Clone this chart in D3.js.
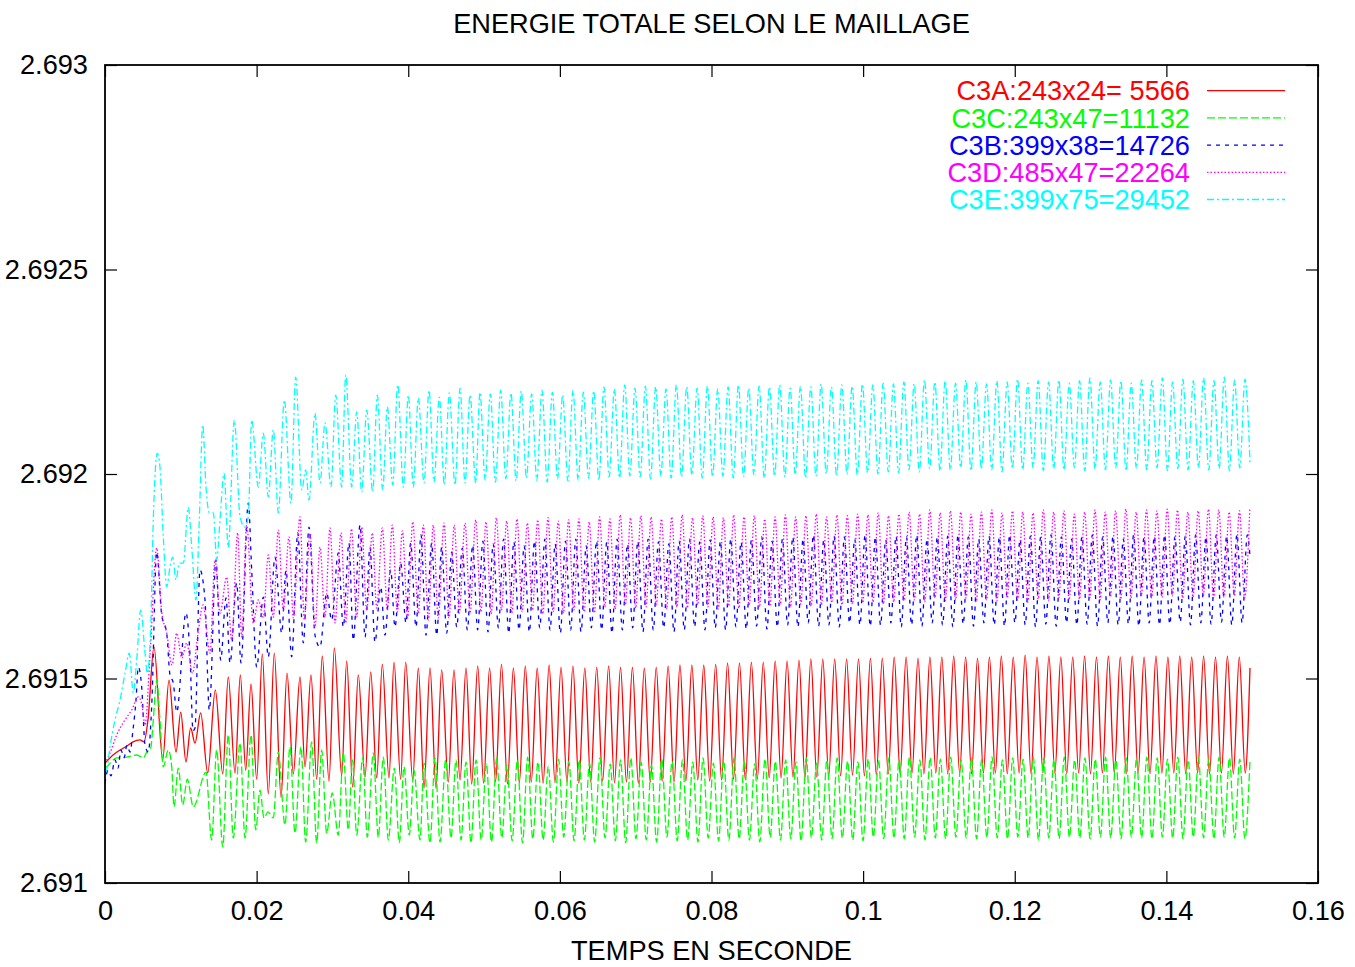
<!DOCTYPE html>
<html><head><meta charset="utf-8">
<script src="https://cdn.jsdelivr.net/npm/d3@7"></script>
<style>
html,body{margin:0;padding:0;background:#fff;}
svg{display:block;}
text{font-family:"Liberation Sans",Arial,Helvetica,sans-serif;}
</style></head><body>
<svg id="chart" width="1355" height="967"></svg>
<script>
// ---------------- DATA (time in ms, total energy) ----------------
const chartTitle = "ENERGIE TOTALE SELON LE MAILLAGE";
const xAxisTitle = "TEMPS EN SECONDE";
const xTickValues = [0, 0.02, 0.04, 0.06, 0.08, 0.1, 0.12, 0.14, 0.16];
const xTickLabels = ["0", "0.02", "0.04", "0.06", "0.08", "0.1", "0.12", "0.14", "0.16"];
const yTickValues = [2.691, 2.6915, 2.692, 2.6925, 2.693];
const yTickLabels = ["2.691", "2.6915", "2.692", "2.6925", "2.693"];
const seriesLabels = ["C3A:243x24= 5566", "C3C:243x47=11132", "C3B:399x38=14726", "C3D:485x47=22264", "C3E:399x75=29452"];

const c3aTime = [
0,1.06,1.98,2.90,3.69,4.62,5.14,5.67,6.46,7.61,
8.44,9.37,9.99,10.68,11.30,11.87,12.62,13.55,14.55,15.53,
16.26,17.15,17.85,18.56,19.26,20.01,20.75,21.54,22.33,23.22,
24.01,24.84,25.72,26.38,27.17,27.92,28.66,29.55,30.25,31.22,
31.88,32.67,33.41,34.30,35.05,35.84,36.58,37.46,38.12,39.00,
39.66,40.59,41.33,42.08,42.87,43.66,44.41,45.28,46.03,46.83,
47.62,48.37,
49.16,49.94,50.73,51.51,52.30,53.08,53.87,54.65,55.44,56.22,
57.01,57.79,58.58,59.36,60.15,60.93,61.72,62.50,63.29,64.07,
64.86,65.64,66.43,67.21,68.00,68.78,69.57,70.35,71.14,71.92,
72.71,73.49,74.28,75.06,75.84,76.62,77.41,78.19,78.98,79.76,
80.55,81.33,82.12,82.90,83.69,84.47,85.26,86.04,86.83,87.61,
88.40,89.18,89.97,90.75,91.54,92.32,93.11,93.89,94.68,95.46,
96.25,97.03,97.82,98.60,99.39,100.17,100.96,101.74,102.53,103.31,
104.10,104.88,105.67,106.45,107.24,108.02,108.81,109.59,110.38,111.16,
111.95,112.73,113.52,114.30,115.09,115.87,116.66,117.44,118.23,119.01,
119.80,120.58,121.37,122.15,122.94,123.72,124.51,125.29,126.08,126.86,
127.65,128.43,129.21,129.99,130.78,131.56,132.35,133.13,133.92,134.70,
135.49,136.27,137.06,137.84,138.63,139.41,140.20,140.98,141.77,142.55,
143.34,144.12,144.91,145.69,146.48,147.26,148.05,148.83,149.62,150.40,
151.03];
const c3aEnergy = [
2.691293,2.691313,2.691325,2.691335,2.691345,2.69135,2.691345,2.691399,2.691577,2.691301,
2.691496,2.69132,2.691418,2.691296,2.691379,2.691342,2.691416,2.691269,2.691472,2.691267,
2.691504,2.691269,2.691509,2.691276,2.691487,2.691254,2.69156,2.691218,2.691562,2.69121,
2.691513,2.691267,2.691504,2.691284,2.691509,2.691254,2.691555,2.691249,2.691575,2.691262,
2.691543,2.691235,2.691509,2.691259,2.691516,2.691257,2.691535,2.691257,2.69154,2.691254,
2.69154,2.691252,2.691526,2.691232,2.691526,2.691232,2.691521,2.691247,2.691521,2.691252,
2.691526,2.691242,
2.691531,2.691244,2.691526,2.691247,2.691535,2.691242,2.691526,2.691245,2.691531,2.691247,
2.691526,2.691244,2.691533,2.691245,2.691528,2.691247,2.691531,2.691244,2.691526,2.691247,
2.691528,2.691249,2.691531,2.691245,2.691528,2.691247,2.691528,2.691244,2.691526,2.691247,
2.691528,2.691249,2.691531,2.691247,2.691533,2.691249,2.691533,2.691252,2.691533,2.691249,
2.691535,2.691252,2.691538,2.691254,2.691538,2.691252,2.69154,2.691254,2.69154,2.691257,
2.691543,2.691257,2.691543,2.691259,2.691545,2.691257,2.691548,2.691259,2.691548,2.691262,
2.691548,2.691262,2.691548,2.691264,2.691548,2.691262,2.69155,2.691264,2.69155,2.691267,
2.691553,2.691267,2.691553,2.691269,2.69155,2.691267,2.691553,2.691269,2.691553,2.691267,
2.691555,2.691269,2.691553,2.691267,2.69155,2.691269,2.691553,2.691269,2.691555,2.691267,
2.691553,2.691269,2.691558,2.691267,2.691553,2.691269,2.691555,2.691269,2.691553,2.691267,
2.691553,2.691269,2.691555,2.691267,2.691553,2.691269,2.691555,2.691269,2.691553,2.691267,
2.691555,2.691269,2.691553,2.691267,2.691555,2.691269,2.691553,2.691269,2.691555,2.691267,
2.691553,2.691269,2.691555,2.691267,2.691553,2.691269,2.691555,2.691267,2.691553,2.691269,
2.691526];

const c3cTime = [
0,0.22,1.54,2.86,4.18,5.05,5.50,6.03,6.37,6.82,
7.25,7.69,8.35,8.80,9.10,9.67,10.25,10.86,11.65,13.32,
14.07,14.73,15.53,16.26,16.92,17.81,18.47,19.26,19.88,20.45,
20.97,21.50,22.20,22.86,23.74,24.40,25.06,25.85,26.47,27.26,
27.92,28.58,29.24,29.98,30.77,31.43,32.09,32.65,33.20,33.99,
34.60,35.39,36.05,36.71,37.37,38.16,38.82,39.44,40.14,40.76,
41.55,42.08,42.87,43.53,44.19,44.94,45.64,46.30,46.96,47.62,
48.28,
48.94,49.62,50.30,50.98,51.66,52.34,53.02,53.70,54.39,55.07,
55.75,56.43,57.11,57.79,58.47,59.15,59.83,60.51,61.19,61.87,
62.55,63.23,63.91,64.59,65.28,65.96,66.64,67.32,68.00,68.68,
69.36,70.04,70.72,71.40,72.08,72.76,73.44,74.12,74.80,75.48,
76.17,76.85,77.53,78.21,78.89,79.57,80.25,80.93,81.61,82.29,
82.97,83.65,84.33,85.01,85.69,86.37,87.06,87.74,88.42,89.10,
89.78,90.46,91.14,91.82,92.50,93.18,93.86,94.54,95.22,95.90,
96.58,97.26,97.95,98.63,99.31,99.99,100.67,101.35,102.03,102.71,
103.39,104.07,104.75,105.43,106.11,106.79,107.48,108.16,108.84,109.52,
110.20,110.88,111.56,112.24,112.92,113.60,114.28,114.96,115.64,116.32,
117.01,117.69,118.37,119.05,119.73,120.41,121.09,121.77,122.45,123.13,
123.81,124.49,125.17,125.85,126.53,127.21,127.90,128.58,129.26,129.94,
130.62,131.30,131.98,132.66,133.34,134.02,134.70,135.38,136.06,136.74,
137.42,138.10,138.79,139.47,140.15,140.83,141.51,142.19,142.87,143.55,
144.23,144.91,145.59,146.27,146.95,147.63,148.32,149.00,149.68,150.36,
151.03];
const c3cEnergy = [
2.691281,2.691284,2.691306,2.691308,2.691313,2.691306,2.69132,2.69133,2.691399,2.691496,
2.691399,2.691284,2.691325,2.691284,2.691186,2.691281,2.691191,2.691254,2.691186,2.691271,
2.691105,2.691325,2.691088,2.691362,2.69111,2.691342,2.69111,2.691362,2.69113,2.691227,
2.691159,2.691174,2.691159,2.69132,2.691142,2.691333,2.691122,2.691333,2.6911,2.691345,
2.691098,2.691325,2.691122,2.69122,2.691117,2.691318,2.69113,2.691301,2.691117,2.691306,
2.691112,2.691318,2.691112,2.691308,2.691105,2.691281,2.691098,2.691284,2.691117,2.691276,
2.691105,2.691293,2.691098,2.691306,2.6911,2.691301,2.69111,2.691301,2.691105,2.691296,
2.691098,
2.691301,2.691105,2.691293,2.6911,2.691306,2.69111,2.691289,2.691103,2.691301,2.691098,
2.691308,2.691108,2.691296,2.691105,2.691286,2.6911,2.691303,2.691112,2.691298,2.691103,
2.691301,2.691105,2.691293,2.6911,2.691306,2.69111,2.691291,2.691103,2.691301,2.691098,
2.691306,2.691108,2.691296,2.691105,2.691289,2.6911,2.691303,2.691112,2.691298,2.691103,
2.691301,2.691105,2.691296,2.6911,2.691306,2.69111,2.691293,2.691103,2.691301,2.691105,
2.691306,2.691108,2.691298,2.691105,2.691291,2.6911,2.691303,2.691112,2.691298,2.691105,
2.691301,2.691108,2.691296,2.691103,2.691306,2.69111,2.691293,2.691105,2.691301,2.691108,
2.691306,2.69111,2.691298,2.691105,2.691296,2.691103,2.691303,2.691112,2.691301,2.691108,
2.691306,2.69111,2.691303,2.691108,2.691308,2.691112,2.691301,2.691105,2.691306,2.69111,
2.691303,2.691108,2.691308,2.691112,2.691301,2.69111,2.691306,2.691108,2.691303,2.691112,
2.691308,2.69111,2.691301,2.691108,2.691306,2.691112,2.691303,2.69111,2.691308,2.691105,
2.691306,2.69111,2.691303,2.691108,2.691308,2.691112,2.691301,2.69111,2.691306,2.691108,
2.691303,2.691112,2.691308,2.69111,2.691301,2.691108,2.691306,2.691112,2.691303,2.69111,
2.691308,2.691108,2.691306,2.691112,2.691303,2.69111,2.691308,2.691108,2.691301,2.691112,
2.691306,2.69111,2.691303,2.691108,2.691308,2.691112,2.691306,2.69111,2.691303,2.691108,
2.691301];

const c3bTime = [
0,0.40,0.79,1.32,1.71,2.11,2.51,2.90,3.30,3.69,
4.09,4.39,4.84,5.28,5.71,6.16,6.82,7.48,8.14,8.57,
9.01,9.46,10.68,11.21,11.61,11.87,12.53,13.19,13.76,14.64,
15.26,15.96,16.49,17.37,17.94,18.90,19.35,20.01,20.88,21.54,
22.42,23.31,23.87,24.63,25.42,26.16,26.91,27.70,28.36,29.24,
29.90,30.77,31.43,32.18,32.75,33.64,34.30,34.95,35.61,36.37,
36.93,37.68,38.25,39.00,39.70,40.32,41.02,41.68,42.34,43.09,
43.75,44.41,45.07,45.73,46.39,47.13,47.79,48.50,
49.16,49.84,50.52,51.20,51.89,52.57,53.25,53.93,54.61,55.29,
55.97,56.65,57.34,58.02,58.70,59.38,60.06,60.74,61.42,62.10,
62.79,63.47,64.15,64.83,65.51,66.19,66.87,67.55,68.24,68.92,
69.60,70.28,70.96,71.64,72.32,73.00,73.69,74.37,75.05,75.73,
76.41,77.09,77.77,78.45,79.14,79.82,80.50,81.18,81.86,82.54,
83.22,83.90,84.59,85.27,85.95,86.63,87.31,87.99,88.68,89.36,
90.04,90.72,91.40,92.08,92.76,93.44,94.13,94.81,95.49,96.17,
96.85,97.53,98.21,98.89,99.58,100.26,100.94,101.62,102.30,102.98,
103.66,104.34,105.03,105.71,106.39,107.07,107.75,108.43,109.11,109.79,
110.48,111.16,111.84,112.52,113.20,113.88,114.56,115.24,115.93,116.61,
117.29,117.97,118.65,119.33,120.02,120.70,121.38,122.06,122.74,123.42,
124.10,124.78,125.47,126.15,126.83,127.51,128.19,128.87,129.55,130.23,
130.92,131.60,132.28,132.96,133.64,134.32,135.00,135.68,136.37,137.05,
137.73,138.41,139.09,139.77,140.45,141.13,141.82,142.50,143.18,143.86,
144.54,145.22,145.90,146.58,147.27,147.95,148.63,149.31,149.99,150.67,
151.03];
const c3bEnergy = [
2.691244,2.691276,2.691262,2.691301,2.691281,2.691325,2.691306,2.691337,2.69132,2.691374,
2.691447,2.691528,2.691479,2.691337,2.69132,2.691433,2.691809,2.691655,2.691611,2.691509,
2.691489,2.691418,2.69166,2.691557,2.691372,2.691379,2.691765,2.691692,2.691423,2.69179,
2.691545,2.691697,2.691538,2.691733,2.691538,2.691929,2.691765,2.691528,2.691699,2.691553,
2.691797,2.691611,2.691765,2.691553,2.691856,2.691587,2.69187,2.691606,2.691577,2.691709,
2.691643,2.691807,2.691626,2.691831,2.691594,2.691875,2.691601,2.691821,2.691589,2.691724,
2.691606,2.691765,2.691626,2.691782,2.691636,2.691831,2.691626,2.691851,2.691606,2.691831,
2.691606,2.691821,2.691611,2.691809,2.691626,2.691819,2.691619,2.691826,
2.691619,2.691836,2.691614,2.691829,2.691624,2.691841,2.691611,2.691834,2.691619,2.691824,
2.691614,2.691836,2.691624,2.691841,2.691619,2.691829,2.691611,2.691836,2.691619,2.691841,
2.691614,2.691824,2.691624,2.691836,2.691619,2.691834,2.691611,2.691841,2.691619,2.691829,
2.691624,2.691836,2.691614,2.691841,2.691619,2.691834,2.691624,2.691829,2.691614,2.691836,
2.691619,2.691841,2.691626,2.691834,2.691619,2.691839,2.691624,2.691836,2.691619,2.691841,
2.691626,2.691834,2.691621,2.691839,2.691628,2.691846,2.691621,2.691836,2.691626,2.691841,
2.691631,2.691846,2.691626,2.691841,2.691636,2.691851,2.691628,2.691839,2.691631,2.691848,
2.691626,2.691846,2.691636,2.691841,2.691631,2.691851,2.691628,2.691846,2.691631,2.691839,
2.691636,2.691848,2.691626,2.691846,2.691631,2.691851,2.691628,2.691841,2.691636,2.691846,
2.691631,2.691848,2.691626,2.691851,2.691633,2.691846,2.691628,2.691841,2.691636,2.691848,
2.691631,2.691846,2.691628,2.691851,2.691636,2.691841,2.691631,2.691848,2.691626,2.691846,
2.691633,2.691851,2.691628,2.691846,2.691636,2.691841,2.691631,2.691848,2.691633,2.691851,
2.691628,2.691846,2.691636,2.691848,2.691631,2.691841,2.691633,2.691851,2.691628,2.691846,
2.691636,2.691848,2.691631,2.691851,2.691633,2.691846,2.691638,2.691848,2.691631,2.691851,
2.691636,2.691846,2.691633,2.691851,2.691638,2.691848,2.691631,2.691853,2.691636,2.691851,
2.6918];

const c3dTime = [
0,0.66,1.54,2.64,3.52,4.39,4.88,5.28,5.94,6.82,
7.48,8.14,8.84,9.46,10.12,10.78,11.54,12.27,12.93,13.85,
14.51,15.17,16.05,16.71,17.50,18.03,18.69,19.56,20.22,20.88,
21.54,22.20,22.86,23.52,24.27,24.84,25.72,26.29,27.04,27.70,
28.36,29.02,29.68,30.34,31.13,31.75,32.51,33.20,33.86,34.52,
35.26,35.84,36.58,37.24,37.90,38.56,39.22,39.93,40.59,41.33,
41.99,42.65,43.30,43.96,44.72,45.37,46.07,46.73,47.49,48.15,
48.90,49.58,50.26,50.94,51.62,52.30,52.98,53.66,54.35,55.03,
55.71,56.39,57.07,57.75,58.43,59.11,59.79,60.47,61.15,61.83,
62.51,63.19,63.87,64.55,65.24,65.92,66.60,67.28,67.96,68.64,
69.32,70.00,70.68,71.36,72.04,72.72,73.40,74.08,74.76,75.44,
76.13,76.81,77.49,78.17,78.85,79.53,80.21,80.89,81.57,82.25,
82.93,83.61,84.29,84.97,85.65,86.33,87.02,87.70,88.38,89.06,
89.74,90.42,91.10,91.78,92.46,93.14,93.82,94.50,95.18,95.86,
96.54,97.22,97.91,98.59,99.27,99.95,100.63,101.31,101.99,102.67,
103.35,104.03,104.71,105.39,106.07,106.75,107.44,108.12,108.80,109.48,
110.16,110.84,111.52,112.20,112.88,113.56,114.24,114.92,115.60,116.28,
116.97,117.65,118.33,119.01,119.69,120.37,121.05,121.73,122.41,123.09,
123.77,124.45,125.13,125.81,126.49,127.17,127.86,128.54,129.22,129.90,
130.58,131.26,131.94,132.62,133.30,133.98,134.66,135.34,136.02,136.70,
137.38,138.06,138.75,139.43,140.11,140.79,141.47,142.15,142.83,143.51,
144.19,144.87,145.55,146.23,146.91,147.59,148.28,148.96,149.64,150.32,
151.00];
const c3dEnergy = [
2.691293,2.691318,2.691362,2.691399,2.691423,2.691455,2.691435,2.691386,2.691557,2.691819,
2.691663,2.691611,2.691533,2.691611,2.69155,2.691587,2.691513,2.691611,2.69168,2.691562,
2.69179,2.69166,2.691748,2.691594,2.691856,2.691601,2.691875,2.691636,2.691692,2.69165,
2.691802,2.69165,2.691863,2.691667,2.691846,2.691648,2.691895,2.691643,2.691856,2.691626,
2.691821,2.69165,2.691868,2.691636,2.691856,2.691636,2.691866,2.69165,2.69187,2.691667,
2.691856,2.691672,2.691868,2.691667,2.691875,2.691663,2.691861,2.691648,2.691883,2.69166,
2.691875,2.691643,2.691875,2.691648,2.69188,2.691648,2.691875,2.69166,2.69188,2.69166,
2.691888,2.691663,2.691883,2.691658,2.691893,2.691667,2.691885,2.69166,2.69189,2.691663,
2.69188,2.691667,2.691888,2.691658,2.691893,2.691663,2.691885,2.69166,2.691888,2.691667,
2.69189,2.691663,2.691883,2.69166,2.691895,2.691675,2.69189,2.69167,2.6919,2.69168,
2.691893,2.691672,2.691898,2.691675,2.691895,2.69168,2.69189,2.69167,2.691895,2.691675,
2.6919,2.691672,2.691893,2.69168,2.691898,2.691675,2.691895,2.69167,2.691893,2.691677,
2.6919,2.691672,2.691895,2.69168,2.691898,2.691675,2.69189,2.691677,2.691895,2.69168,
2.6919,2.691675,2.691895,2.691682,2.691898,2.691677,2.691902,2.69168,2.691895,2.691685,
2.6919,2.69168,2.691898,2.691682,2.691902,2.691685,2.6919,2.691687,2.691905,2.691682,
2.691898,2.691687,2.691902,2.69169,2.691907,2.691692,2.691902,2.691687,2.691912,2.691697,
2.691905,2.69169,2.69191,2.691692,2.691907,2.691697,2.691902,2.691687,2.691907,2.691692,
2.691912,2.69169,2.691905,2.691697,2.69191,2.691692,2.691907,2.691687,2.691905,2.691694,
2.691912,2.69169,2.691907,2.691697,2.69191,2.691692,2.691902,2.691694,2.691907,2.691697,
2.691912,2.691692,2.691907,2.691699,2.69191,2.691694,2.691914,2.691697,2.691907,2.691702,
2.691912,2.691697,2.69191,2.691699,2.691914,2.691702,2.691912,2.691697,2.691907,2.691699,
2.69191,2.691702,2.691914,2.691697,2.691912,2.691699,2.691907,2.691702,2.69191,2.691697,
2.691914];

const c3eTime = [
0,0.22,0.66,1.32,1.98,2.64,3.21,3.73,4.18,4.71,
5.28,5.58,6.03,6.37,6.90,7.25,7.69,8.14,8.57,8.93,
9.37,9.80,10.33,10.99,11.44,12.00,12.44,12.89,13.32,13.76,
14.29,14.73,15.17,15.70,16.26,17.06,17.81,18.47,18.90,19.35,
20.22,20.88,21.54,22.20,22.86,23.65,24.53,25.15,25.95,26.47,
26.91,27.70,28.36,29.02,29.81,30.43,31.22,31.75,32.54,33.20,
33.86,34.52,35.31,35.92,36.63,37.24,37.95,38.61,39.35,40.01,
40.67,41.33,42.08,42.74,43.40,44.10,44.76,45.41,46.17,46.83,
47.49,48.15,48.90,
49.46,50.14,50.82,51.50,52.19,52.87,53.55,54.23,54.91,55.59,
56.28,56.96,57.64,58.32,59.01,59.69,60.37,61.05,61.73,62.41,
63.10,63.78,64.46,65.14,65.82,66.50,67.19,67.87,68.55,69.23,
69.91,70.59,71.28,71.96,72.64,73.32,74.00,74.68,75.37,76.05,
76.73,77.41,78.10,78.78,79.46,80.14,80.82,81.50,82.19,82.87,
83.55,84.23,84.91,85.59,86.28,86.96,87.64,88.32,89.00,89.68,
90.37,91.05,91.73,92.41,93.10,93.78,94.46,95.14,95.82,96.50,
97.19,97.87,98.55,99.23,99.91,100.59,101.28,101.96,102.64,103.32,
104.00,104.68,105.37,106.05,106.73,107.41,108.09,108.77,109.46,110.14,
110.82,111.50,112.19,112.87,113.55,114.23,114.91,115.59,116.28,116.96,
117.64,118.32,119.00,119.68,120.37,121.05,121.73,122.41,123.09,123.77,
124.46,125.14,125.82,126.50,127.19,127.87,128.55,129.23,129.91,130.59,
131.28,131.96,132.64,133.32,134.00,134.68,135.37,136.05,136.73,137.41,
138.09,138.77,139.46,140.14,140.82,141.50,142.18,142.86,143.55,144.23,
144.91,145.59,146.28,146.96,147.64,148.32,149.00,149.68,150.37,151.03];
const c3eEnergy = [
2.691271,2.691276,2.691333,2.691399,2.691447,2.691513,2.691562,2.691465,2.691545,2.691667,
2.691562,2.691513,2.691626,2.691888,2.692051,2.692017,2.691846,2.691724,2.691773,2.691797,
2.691741,2.691782,2.691782,2.691919,2.691821,2.691692,2.691888,2.69212,2.691968,2.691905,
2.691905,2.69179,2.691888,2.692002,2.691821,2.692132,2.691895,2.69187,2.691895,2.692132,
2.691968,2.6921,2.691944,2.692108,2.691905,2.692181,2.691929,2.692237,2.691961,2.69201,
2.691936,2.692149,2.691978,2.692125,2.691968,2.692193,2.691968,2.692242,2.691968,2.692152,
2.691956,2.692156,2.691956,2.692193,2.691961,2.692164,2.691973,2.692218,2.691968,2.692193,
2.691968,2.692186,2.691978,2.692205,2.69198,2.692188,2.691973,2.692198,2.691973,2.69221,
2.691978,2.692193,2.691978,
2.6922,2.691985,2.692196,2.69198,2.692205,2.691988,2.692198,2.691983,2.692203,2.69199,
2.692196,2.691985,2.692205,2.69198,2.6922,2.691988,2.692193,2.691983,2.692205,2.691985,
2.6922,2.69199,2.692203,2.691985,2.692213,2.691993,2.692208,2.69199,2.692218,2.691995,
2.69221,2.691993,2.692215,2.691988,2.692213,2.691995,2.692208,2.69199,2.692218,2.691993,
2.692213,2.691998,2.69221,2.69199,2.692215,2.691993,2.692208,2.691995,2.692213,2.69199,
2.692218,2.691993,2.69221,2.691998,2.692215,2.69199,2.692213,2.691995,2.692218,2.691993,
2.69221,2.691998,2.692215,2.69199,2.692213,2.691995,2.69222,2.692,2.692213,2.691995,
2.692218,2.692,2.692215,2.691998,2.69222,2.692003,2.692218,2.692,2.692222,2.692005,
2.69222,2.692003,2.692225,2.69201,2.69222,2.692005,2.69223,2.692013,2.692225,2.692008,
2.692228,2.69201,2.692222,2.692015,2.69223,2.692008,2.692225,2.692013,2.69222,2.69201,
2.692228,2.692005,2.692225,2.692013,2.692232,2.69201,2.692222,2.692015,2.692228,2.692008,
2.692225,2.692013,2.69223,2.69201,2.692222,2.692015,2.692228,2.692008,2.692235,2.692013,
2.692225,2.69201,2.69223,2.692015,2.692228,2.692008,2.692222,2.692013,2.69223,2.69201,
2.692228,2.692015,2.692235,2.692008,2.692225,2.692013,2.692232,2.69201,2.692228,2.692015,
2.692235,2.69201,2.692228,2.692013,2.692237,2.692008,2.69223,2.692015,2.692232,2.692029];

const seriesTimes = [c3aTime, c3cTime, c3bTime, c3dTime, c3eTime];
const seriesEnergies = [c3aEnergy, c3cEnergy, c3bEnergy, c3dEnergy, c3eEnergy];

// ---------------- STYLE ----------------
const seriesColors = ["#ff0000", "#00ff00", "#0000ff", "#ff00ff", "#00ffff"];
const seriesDash = [null, "8,3", "4,5", "1.5,2", "7,3,2,3"];

// ---------------- DRAW ----------------
const svg = d3.select("#chart");
const W = 1355, H = 967;
const plot = {left: 105, right: 1318, top: 65, bottom: 883};
const fontSize = 27.2;

svg.append("rect").attr("x", 0).attr("y", 0).attr("width", W).attr("height", H).attr("fill", "#fff");

const x = d3.scaleLinear().domain([0, 0.16]).range([plot.left, plot.right]);
const y = d3.scaleLinear().domain([2.691, 2.693]).range([plot.bottom, plot.top]);

svg.append("defs").append("clipPath").attr("id", "plotclip")
  .append("rect").attr("x", plot.left).attr("y", plot.top)
  .attr("width", plot.right - plot.left).attr("height", plot.bottom - plot.top);

const tickLen = 12;
function styleAxis(g, showText) {
  g.select(".domain").remove();
  g.selectAll(".tick line").attr("stroke", "#000").attr("stroke-width", 1.2);
  g.selectAll(".tick text").attr("fill", "#000").style("font-size", fontSize + "px")
    .style("font-family", '"Liberation Sans", Arial, Helvetica, sans-serif');
  if (!showText) g.selectAll(".tick text").remove();
}

svg.append("g").attr("transform", `translate(0,${plot.bottom})`)
  .call(d3.axisBottom(x).tickValues(xTickValues).tickFormat((d, i) => xTickLabels[i])
    .tickSizeInner(-tickLen).tickSizeOuter(0).tickPadding(18))
  .call(g => styleAxis(g, true));
svg.append("g").attr("transform", `translate(0,${plot.top})`)
  .call(d3.axisTop(x).tickValues(xTickValues).tickSizeInner(-tickLen).tickSizeOuter(0))
  .call(g => styleAxis(g, false));
svg.append("g").attr("transform", `translate(${plot.left},0)`)
  .call(d3.axisLeft(y).tickValues(yTickValues).tickFormat((d, i) => yTickLabels[i])
    .tickSizeInner(-tickLen).tickSizeOuter(0).tickPadding(17))
  .call(g => styleAxis(g, true))
  .call(g => g.selectAll(".tick text").attr("dy", "0.33em"));
svg.append("g").attr("transform", `translate(${plot.right},0)`)
  .call(d3.axisRight(y).tickValues(yTickValues).tickSizeInner(-tickLen).tickSizeOuter(0))
  .call(g => styleAxis(g, false));

// series
const line = d3.line()
  .x(d => x(d[0] / 1000))
  .y(d => y(d[1]))
  .curve(d3.curveMonotoneX);

const gSeries = svg.append("g").attr("clip-path", "url(#plotclip)");
seriesLabels.forEach((name, i) => {
  const data = d3.zip(seriesTimes[i], seriesEnergies[i]);
  gSeries.append("path")
    .datum(data)
    .attr("d", line)
    .attr("fill", "none")
    .attr("stroke", seriesColors[i])
    .attr("stroke-width", 1.3)
    .attr("stroke-dasharray", seriesDash[i]);
});

// frame
svg.append("rect")
  .attr("x", plot.left).attr("y", plot.top)
  .attr("width", plot.right - plot.left).attr("height", plot.bottom - plot.top)
  .attr("fill", "none").attr("stroke", "#000").attr("stroke-width", 1.8);

// legend
const legendTextRight = 1190, legendLineX1 = 1207, legendLineX2 = 1285;
const legendTop = 90.7, legendStep = 27.2;
const lg = svg.append("g");
seriesLabels.forEach((name, i) => {
  const cy = legendTop + i * legendStep;
  lg.append("text").attr("x", legendTextRight).attr("y", cy).attr("dy", "0.36em")
    .attr("text-anchor", "end").attr("fill", seriesColors[i])
    .style("font-size", fontSize + "px").text(name);
  lg.append("line").attr("x1", legendLineX1).attr("x2", legendLineX2)
    .attr("y1", cy).attr("y2", cy)
    .attr("stroke", seriesColors[i]).attr("stroke-width", 1.3)
    .attr("stroke-dasharray", seriesDash[i]);
});

// titles
svg.append("text").attr("x", (plot.left + plot.right) / 2).attr("y", 33)
  .attr("text-anchor", "middle").attr("fill", "#000")
  .style("font-size", fontSize + "px").text(chartTitle);
svg.append("text").attr("x", (plot.left + plot.right) / 2).attr("y", 960)
  .attr("text-anchor", "middle").attr("fill", "#000")
  .style("font-size", fontSize + "px").text(xAxisTitle);
</script>
</body></html>
